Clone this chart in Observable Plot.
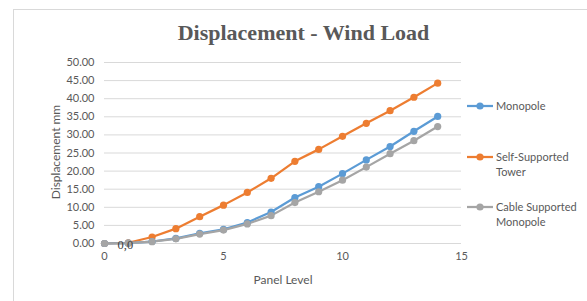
<!DOCTYPE html>
<html>
<head>
<meta charset="utf-8">
<script src="https://cdn.jsdelivr.net/npm/d3@7"></script>
<script src="https://cdn.jsdelivr.net/npm/@observablehq/plot@0.6"></script>
<style>
  html, body { margin: 0; padding: 0; background: #fff; }
  #wrap { position: relative; width: 587px; height: 301px; overflow: hidden; font-family: Lato, "Open Sans", sans-serif; }
  #frame { position: absolute; left: 13px; top: 9px; width: 700px; height: 400px; border-top: 1px solid #d9d9d9; border-left: 1px solid #d9d9d9; }
  #title { position: absolute; left: 0; width: 607px; top: 20px; text-align: center; font-family: "Liberation Serif", "Times New Roman", serif; font-weight: bold; font-size: 22px; color: #595959; }
  .lab { position: absolute; font-size: 12px; color: #595959; white-space: nowrap; }
  #legend { position: absolute; left: 0; top: 0; }
  svg.plot { position: absolute; left: 0; top: 0; }
</style>
</head>
<body>
<div id="wrap">
  <div id="frame"></div>
  <div id="title">Displacement - Wind Load</div>
  <div class="lab" id="ylab" style="left:55px; top:152px; transform: translate(-50%,-50%) rotate(-90deg);">Displacement mm</div>
  <div class="lab" id="xlab" style="left:283px; top:279px; transform: translate(-50%,-50%);">Panel Level</div>
  <div id="chart"></div>
</div>
<script>
const panelLevels = [0, 1, 2, 3, 4, 5, 6, 7, 8, 9, 10, 11, 12, 13, 14];
const monopole = [0, 0.1, 0.55, 1.4, 2.8, 3.9, 5.8, 8.7, 12.7, 15.7, 19.3, 23.1, 26.8, 31.0, 35.1];
const selfSupported = [0, 0.2, 1.8, 4.1, 7.4, 10.6, 14.1, 18.0, 22.7, 26.0, 29.6, 33.2, 36.7, 40.4, 44.3];
const cableSupported = [0, 0.1, 0.5, 1.3, 2.6, 3.7, 5.4, 7.7, 11.3, 14.3, 17.5, 21.1, 24.8, 28.4, 32.3];
const seriesNames = ["Monopole", "Self-Supported Tower", "Cable Supported Monopole"];
const legendLines = [["Monopole"], ["Self-Supported", "Tower"], ["Cable Supported", "Monopole"]];
const seriesColors = ["#5B9BD5", "#ED7D31", "#A5A5A5"];
const yTicks = [0, 5, 10, 15, 20, 25, 30, 35, 40, 45, 50];
const xTicks = [0, 5, 10, 15];
const pointLabel = "0,0";

const seriesValues = [monopole, selfSupported, cableSupported];
// draw order: orange, blue, gray on top
const drawOrder = [1, 0, 2];
const data = drawOrder.flatMap(si => panelLevels.map((x, i) => ({x, y: seriesValues[si][i], s: seriesNames[si]})));

const plot = Plot.plot({
  width: 587,
  height: 301,
  marginLeft: 104,
  marginRight: 126,
  marginTop: 62,
  marginBottom: 58,
  style: {fontFamily: "Lato, 'Open Sans', sans-serif", fontSize: "11px", color: "#595959", background: "transparent"},
  x: {domain: [0, 15], ticks: xTicks},
  y: {domain: [0, 50], ticks: yTicks},
  color: {domain: seriesNames, range: seriesColors},
  marks: [
    Plot.gridY(yTicks, {stroke: "#d9d9d9", strokeOpacity: 1, strokeWidth: 1}),
    Plot.axisY(yTicks, {tickSize: 0, tickPadding: 10, tickFormat: d3.format(".2f"), label: null, fill: "#595959", fontSize: 11}),
    Plot.axisX(xTicks, {tickSize: 0, tickPadding: 9, label: null, fill: "#595959", fontSize: 11}),
    Plot.line(data, {x: "x", y: "y", z: "s", stroke: "s", strokeWidth: 2.25}),
    Plot.dot(data, {x: "x", y: "y", fill: "s", r: 3.6, stroke: "none"}),
    Plot.text([{x: 0, y: 0}], {x: "x", y: "y", text: () => pointLabel, dx: 13, dy: 1, textAnchor: "start", fontFamily: "'Liberation Serif', 'Times New Roman', serif", fontSize: 12.5, fill: "#404040"})
  ]
});
document.getElementById("chart").appendChild(plot);

// legend
const legendY = [106, 157, 207];
const wrap = document.getElementById("wrap");
const ns = "http://www.w3.org/2000/svg";
const lg = document.createElementNS(ns, "svg");
lg.setAttribute("width", 587); lg.setAttribute("height", 301);
lg.setAttribute("id", "legend");
lg.style.position = "absolute"; lg.style.left = "0"; lg.style.top = "0";
legendLines.forEach((lines, i) => {
  const y = legendY[i];
  const ln = document.createElementNS(ns, "line");
  ln.setAttribute("x1", 467); ln.setAttribute("x2", 493);
  ln.setAttribute("y1", y); ln.setAttribute("y2", y);
  ln.setAttribute("stroke", seriesColors[i]); ln.setAttribute("stroke-width", 2.25);
  lg.appendChild(ln);
  const c = document.createElementNS(ns, "circle");
  c.setAttribute("cx", 480); c.setAttribute("cy", y); c.setAttribute("r", 3.6);
  c.setAttribute("fill", seriesColors[i]);
  lg.appendChild(c);
  lines.forEach((t, j) => {
    const tx = document.createElementNS(ns, "text");
    tx.setAttribute("x", 496); tx.setAttribute("y", y + j * 15);
    tx.setAttribute("dy", "0.35em");
    tx.setAttribute("font-family", "Lato, 'Open Sans', sans-serif");
    tx.setAttribute("font-size", 11);
    tx.setAttribute("fill", "#595959");
    tx.textContent = t;
    lg.appendChild(tx);
  });
});
wrap.appendChild(lg);
</script>
</body>
</html>
